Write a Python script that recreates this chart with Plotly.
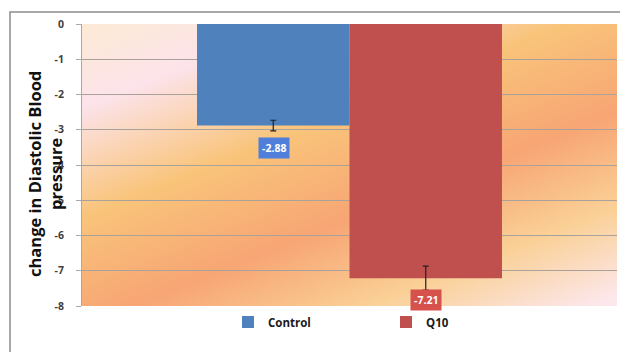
import base64
import plotly.graph_objects as go

# ---- data ----
categories = ["Change"]
series_names = ["Control", "Q10"]
control_values = [-2.88]
q10_values = [-7.21]
control_err = [0.15]
q10_err = [0.34]
y_ticks = [0, -1, -2, -3, -4, -5, -6, -7, -8]
y_ticktext = ["0", "-1", "-2", "-3", "-4", "-5", "-6", "-7", "-8"]
y_title = "change in Diastolic Blood<br>pressure"

bar_colors = ["#4F81BD", "#C0504D"]
label_colors = ["#4F7FDA", "#D6504C"]

W, H = 620, 352
ml, mr, mt, mb = 82, 3, 24, 46
pw, ph = W - ml - mr, H - mt - mb

# gradient background for the plot area (svg data uri)
svg = f'''<svg xmlns="http://www.w3.org/2000/svg" width="{pw}" height="{ph}" viewBox="0 0 {pw} {ph}" preserveAspectRatio="none">
<defs><linearGradient id="g" gradientUnits="userSpaceOnUse" x1="0" y1="0" x2="171" y2="427">
<stop offset="0" stop-color="#FCEAD4"/>
<stop offset="0.17" stop-color="#FCE3EA"/>
<stop offset="0.39" stop-color="#F9C47A"/>
<stop offset="0.61" stop-color="#F7A574"/>
<stop offset="0.80" stop-color="#FAD096"/>
<stop offset="0.98" stop-color="#FCE7EA"/>
</linearGradient></defs>
<rect x="0" y="0" width="{pw}" height="{ph}" fill="url(#g)"/>
</svg>'''
src = "data:image/svg+xml;base64," + base64.b64encode(svg.encode()).decode()

fig = go.Figure()
for name, vals, errs, col in [
    (series_names[0], control_values, control_err, bar_colors[0]),
    (series_names[1], q10_values, q10_err, bar_colors[1]),
]:
    fig.add_trace(go.Bar(
        x=categories, y=vals, name=name, marker_color=col, marker_line_width=0,
        error_y=dict(type="data", array=errs, color="#222222", thickness=1.2, width=3),
    ))

# data labels
offsets = [-76, 76]
for i, vals in enumerate([control_values, q10_values]):
    fig.add_annotation(
        x=categories[0], y=vals[0], xref="x", yref="y", xshift=offsets[i], yshift=-22,
        text=f"{vals[0]:.2f}", showarrow=False, bgcolor=label_colors[i],
        font=dict(family="Open Sans", size=10.5, color="white", weight="bold"), borderpad=3,
    )

# y-axis title
fig.add_annotation(
    x=-(ml - 45) / pw, y=(H - mb - 174) / ph,
    xref="paper", yref="paper", text=y_title, textangle=-90,
    showarrow=False, xanchor="center", yanchor="middle",
    font=dict(family="Open Sans", size=16.5, color="#111111", weight="bold"),
)

# outer border
fig.add_shape(type="rect", xref="paper", yref="paper",
              x0=-(ml - 10) / pw, x1=1.05, y0=-0.5, y1=(H - mb - 12) / ph,
              line=dict(color="#8C8C8C", width=1.5), fillcolor="rgba(0,0,0,0)", layer="below")

fig.add_layout_image(dict(source=src, xref="paper", yref="paper", x=0, y=1, sizex=1, sizey=1,
                          sizing="stretch", layer="below", xanchor="left", yanchor="top"))

fig.update_layout(
    width=W, height=H, margin=dict(l=ml, r=mr, t=mt, b=mb, autoexpand=False),
    paper_bgcolor="white", plot_bgcolor="rgba(0,0,0,0)",
    barmode="group", bargap=0.43, bargroupgap=0,
    showlegend=True,
    legend=dict(orientation="h", x=(228 - ml) / pw, xanchor="left", y=(H - mb - 322) / ph, yanchor="middle",
                entrywidth=113, entrywidthmode="pixels", bgcolor="rgba(0,0,0,0)",
                font=dict(family="Open Sans", size=11.5, color="#1a1a1a", weight="bold"), traceorder="normal"),
    xaxis=dict(type="category", range=[-0.5, 0.5], showticklabels=False, showgrid=False,
               zeroline=False, showline=False, fixedrange=True),
    yaxis=dict(range=[-8, 0], tickvals=y_ticks, ticktext=y_ticktext,
               showgrid=True, gridcolor="#A8A29A", gridwidth=1, zeroline=False,
               showline=True, linecolor="#A8A8A8", linewidth=1,
               ticks="outside", ticklen=5, tickcolor="#A8A8A8", ticklabelstandoff=10,
               tickfont=dict(family="Open Sans", size=10.5, color="#404040", weight="bold")),
)

fig.write_html("out.html", config={"displayModeBar": False},
               post_script="document.body.style.margin='0';")
